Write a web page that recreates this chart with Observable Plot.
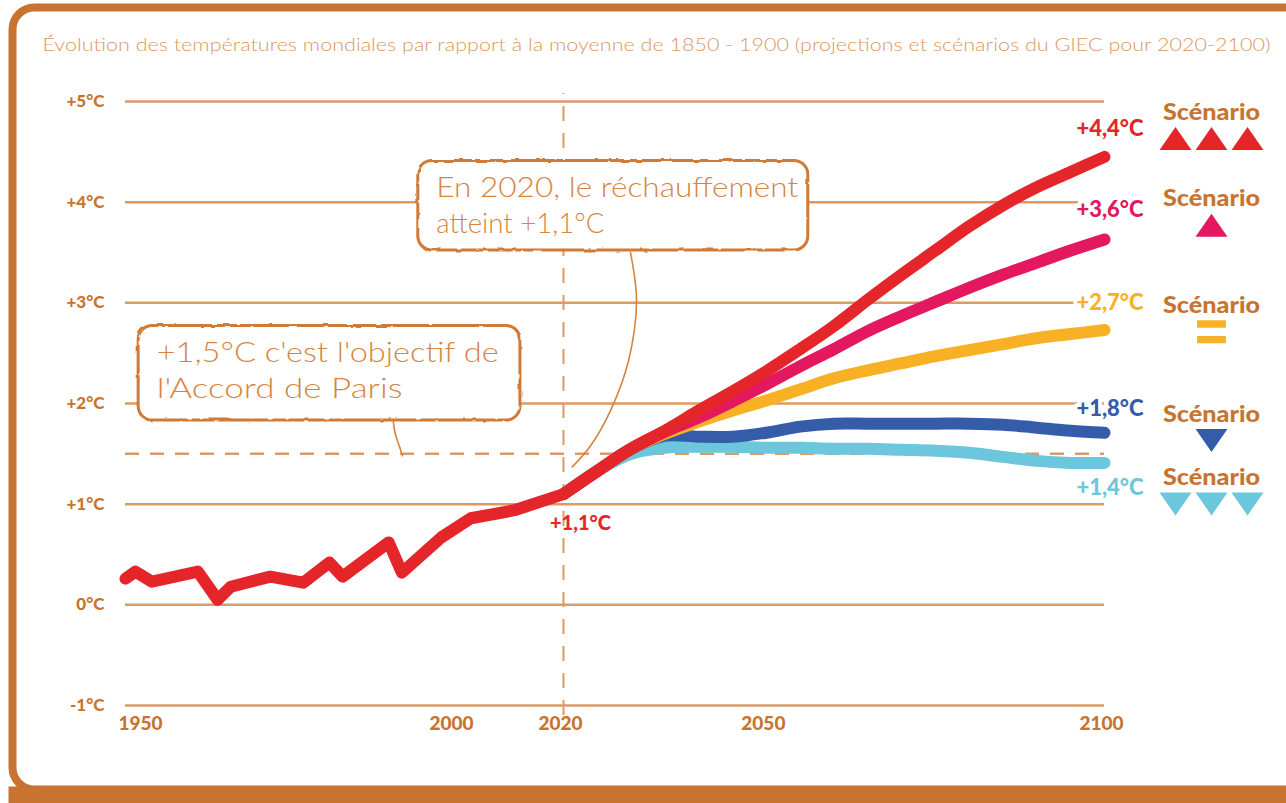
<!DOCTYPE html>
<html><head><meta charset="utf-8">
<script src="https://cdn.jsdelivr.net/npm/d3@7"></script>
<script src="https://cdn.jsdelivr.net/npm/@observablehq/plot@0.6"></script>
<style>
html,body{margin:0;padding:0;background:#fff;}
#chart svg{display:block}
</style></head><body><div id="chart"></div>
<script>
// ---------- DATA ----------
const title = "Évolution des températures mondiales par rapport à la moyenne de 1850 - 1900 (projections et scénarios du GIEC pour 2020-2100)";

const histYears = [1950, 1951.5, 1954, 1961, 1964, 1966, 1972, 1977, 1981, 1983, 1990, 1992, 1998, 2003, 2011, 2020];
const histTemps = [0.26, 0.33, 0.23, 0.33, 0.05, 0.18, 0.28, 0.22, 0.42, 0.28, 0.62, 0.32, 0.67, 0.86, 0.94, 1.10];

const projYears = [2020, 2025, 2030, 2035, 2040, 2045, 2050, 2055, 2060, 2065, 2070, 2075, 2080, 2085, 2090, 2095, 2100];
const tempsTripleUp = [1.10, 1.33, 1.55, 1.73, 1.93, 2.12, 2.32, 2.54, 2.77, 3.03, 3.28, 3.52, 3.76, 3.97, 4.15, 4.30, 4.45];
const tempsUp       = [1.10, 1.33, 1.55, 1.72, 1.86, 2.02, 2.19, 2.37, 2.54, 2.72, 2.87, 3.01, 3.15, 3.28, 3.40, 3.52, 3.63];
const tempsEqual    = [1.10, 1.33, 1.55, 1.70, 1.82, 1.93, 2.03, 2.14, 2.25, 2.33, 2.40, 2.47, 2.53, 2.59, 2.65, 2.69, 2.73];
const tempsDown     = [1.10, 1.33, 1.55, 1.68, 1.67, 1.67, 1.71, 1.77, 1.80, 1.80, 1.80, 1.80, 1.80, 1.79, 1.76, 1.73, 1.71];
const tempsTripleDn = [1.10, 1.33, 1.50, 1.56, 1.57, 1.57, 1.56, 1.56, 1.55, 1.55, 1.54, 1.53, 1.51, 1.47, 1.43, 1.41, 1.41];

const scenarioLabels = ["+4,4°C", "+3,6°C", "+2,7°C", "+1,8°C", "+1,4°C"];
const scenarioColors = ["#e4262a", "#e3185f", "#f8b124", "#345ca8", "#6cc6dc"];
const scenarioSeries = [tempsTripleUp, tempsUp, tempsEqual, tempsDown, tempsTripleDn];
const scenarioIcons = ["up", "up", "equal", "down", "down"];
const scenarioIconCounts = [3, 1, 1, 1, 3];
const scenarioLabelAt = [4.73, 3.92, 3.00, 1.95, 1.16];   // temperature level where the value label sits
const scenarioLegendAt = [4.89, 4.03, 2.97, 1.89, 1.26];  // temperature level of the "Scénario" word

const yTicks = [5, 4, 3, 2, 1, 0, -1];
const yTickLabels = ["+5°C", "+4°C", "+3°C", "+2°C", "+1°C", "0°C", "-1°C"];
const xTicks = [1950, 2000, 2020, 2050, 2100];

const parisGoal = 1.5;
const refYear = 2020;
const refLabel = "+1,1°C";
const refTemp = 1.10;

const noteTexts = ["En 2020, le réchauffement\natteint +1,1°C", "+1,5°C c'est l'objectif de\nl'Accord de Paris"];
const noteX1 = [1994.5, 1952.0];
const noteX2 = [2056.2, 2012.1];
const noteY1 = [3.52, 1.83];
const noteY2 = [4.41, 2.77];
const leader1Years = [2029.9, 2030.8, 2029.6, 2026.95, 2024.0, 2021.3];
const leader1Temps = [3.50, 3.02, 2.42, 1.93, 1.58, 1.37];
const leader2Years = [1990.7, 1991.0, 1991.6, 1992.1];
const leader2Temps = [1.82, 1.70, 1.58, 1.48];

// ---------- TABLES ----------
const hist = histYears.map((year, i) => ({year, temp: histTemps[i]}));
const scenarios = scenarioLabels.map((label, i) => ({
  label, color: scenarioColors[i], icon: scenarioIcons[i], count: scenarioIconCounts[i],
  labelAt: scenarioLabelAt[i], legendAt: scenarioLegendAt[i]
}));
const proj = scenarioLabels.flatMap((label, i) =>
  projYears.map((year, j) => ({label, order: i, color: scenarioColors[i], year, temp: scenarioSeries[i][j]})));
const notes = noteTexts.map((text, i) => ({text, x1: noteX1[i], x2: noteX2[i], y1: noteY1[i], y2: noteY2[i]}));
const leader1 = leader1Years.map((year, i) => ({year, temp: leader1Temps[i]}));
const leader2 = leader2Years.map((year, i) => ({year, temp: leader2Temps[i]}));

// ---------- STYLE ----------
const brown = "#c8732f";
const grid = "#dc9a64";
const noteColor = "#d6853f";

const triUp = {draw(ctx, size) { const r = Math.sqrt(size / Math.PI), a = 1.33 * r, h = 1.92 * r;
  ctx.moveTo(0, -h / 2); ctx.lineTo(a, h / 2); ctx.lineTo(-a, h / 2); ctx.closePath(); }};
const triDown = {draw(ctx, size) { const r = Math.sqrt(size / Math.PI), a = 1.33 * r, h = 1.92 * r;
  ctx.moveTo(0, h / 2); ctx.lineTo(a, -h / 2); ctx.lineTo(-a, -h / 2); ctx.closePath(); }};
const equalSym = {draw(ctx, size) { const r = Math.sqrt(size / Math.PI);
  ctx.rect(-1.2 * r, -0.96 * r, 2.4 * r, 0.62 * r); ctx.rect(-1.2 * r, 0.34 * r, 2.4 * r, 0.62 * r); }};
const symbolOf = {up: triUp, down: triDown, equal: equalSym};

const iconMarks = scenarios.flatMap(s => (s.count === 3 ? [-1, 0, 1] : [0]).map(k =>
  Plot.dot([s], {x: () => 2100, y: d => d.legendAt, dx: 107 + 36 * k, dy: 26, r: 12,
    symbol: symbolOf[s.icon], fill: d => d.color})));

const chart = Plot.plot({
  width: 1286, height: 803, margin: 0,
  x: {type: "linear", domain: [1950, 2000, 2020, 2100], range: [125, 454, 563, 1104]},
  y: {type: "linear", domain: [-1, 5], range: [705, 101]},
  color: {type: "identity"},
  style: {fontFamily: "Lato, 'Open Sans', sans-serif", background: "white"},
  marks: [
    Plot.frame({stroke: brown, strokeWidth: 8, rx: 22, insetLeft: 12, insetTop: 7, insetRight: -60, insetBottom: 14}),
    Plot.frame({fill: brown, stroke: null, insetTop: 786, insetLeft: 8, insetRight: -60, insetBottom: -20}),
    Plot.text([title], {frameAnchor: "top-left", text: d => d, dx: 42, dy: 45, lineAnchor: "middle", textAnchor: "start",
      fontSize: 18, fontWeight: 300, fill: "#dc9862"}),
    // grid
    Plot.ruleY(yTicks, {y: d => d, x1: () => 1950, x2: () => 2100, stroke: grid, strokeWidth: 2.5}),
    Plot.ruleY([parisGoal], {y: d => d, x1: () => 1950, x2: () => 2100, stroke: grid, strokeWidth: 2.5, strokeDasharray: "14,11"}),
    Plot.ruleX([refYear], {x: d => d, y1: () => -1.1, y2: () => 5.08, stroke: grid, strokeWidth: 2, strokeDasharray: "15,12"}),
    Plot.text(yTicks, {x: () => 1950, y: d => d, text: (d, i) => yTickLabels[i], dx: -21, textAnchor: "end",
      fontWeight: 900, fontSize: 17, fill: brown}),
    Plot.text(xTicks.filter(t => t !== 1950), {x: d => d, y: () => -1, dy: 18, dx: -3, text: d => String(d),
      fontWeight: 900, fontSize: 19, fill: brown}),
    Plot.text([1950], {x: d => d, y: () => -1, dy: 18, dx: -7, text: d => String(d), textAnchor: "start",
      fontWeight: 900, fontSize: 19, fill: brown}),
    // annotation boxes
    Plot.rect(notes, {x1: "x1", x2: "x2", y1: "y1", y2: "y2", fill: "white", stroke: "#d07a36", strokeWidth: 3, rx: 14}),
    Plot.text(notes, {x: "x1", y: "y2", text: "text", dx: 18, dy: 11, textAnchor: "start", lineAnchor: "top",
      lineHeight: 1.28, fontSize: 28, fontWeight: 300, fill: noteColor}),
    Plot.line(leader1, {x: "year", y: "temp", curve: "catmull-rom", stroke: noteColor, strokeWidth: 1.6}),
    Plot.line(leader2, {x: "year", y: "temp", curve: "catmull-rom", stroke: noteColor, strokeWidth: 1.6}),
    // scenario lines (lowest first, red on top)
    ...[4, 3, 2, 1, 0].map(i => Plot.line(proj.filter(d => d.order === i), {x: "year", y: "temp", stroke: "color",
      strokeWidth: 12, curve: "catmull-rom", strokeLinecap: "round", strokeLinejoin: "round"})),
    Plot.line(hist, {x: "year", y: "temp", stroke: scenarioColors[0], strokeWidth: 12,
      strokeLinecap: "round", strokeLinejoin: "round"}),
    Plot.text([refLabel], {x: () => refYear, y: () => refTemp, text: d => d, dx: 17, dy: 29,
      fontWeight: 900, fontSize: 20, fill: scenarioColors[0]}),
    // value labels
    Plot.text(scenarios, {x: () => 2100, y: "labelAt", text: "label", dx: 39, textAnchor: "end",
      fontWeight: 900, fontSize: 22, fill: "color", stroke: "white", strokeWidth: 8}),
    // legend
    Plot.text(scenarios, {x: () => 2100, y: "legendAt", text: () => "Scénario", dx: 107,
      fontWeight: 900, fontSize: 22, fill: brown}),
    ...iconMarks
  ]
});

document.getElementById("chart").appendChild(chart);

// hand-drawn look for the annotation boxes, and fit text widths to the reference
const svg = d3.select(chart);
svg.insert("defs", ":first-child").html(
  '<filter id="rough" x="-5%" y="-10%" width="110%" height="120%">' +
  '<feTurbulence type="fractalNoise" baseFrequency="0.09" numOctaves="2" seed="4" result="n"/>' +
  '<feDisplacementMap in="SourceGraphic" in2="n" scale="3"/></filter>');
svg.selectAll('g[aria-label="rect"] rect').attr("filter", "url(#rough)");
const fitWidths = new Map([
  [title, 1228],
  ["En 2020, le réchauffement", 362],
  ["atteint +1,1°C", 168],
  ["+1,5°C c'est l'objectif de", 342],
  ["l'Accord de Paris", 246],
  ["Scénario", 97]
]);
svg.selectAll("text, tspan").each(function() {
  if (this.tagName === "text" && this.querySelector("tspan")) return;
  const w = fitWidths.get(this.textContent);
  if (w) d3.select(this).attr("textLength", w).attr("lengthAdjust", "spacingAndGlyphs");
});
</script>
</body></html>
